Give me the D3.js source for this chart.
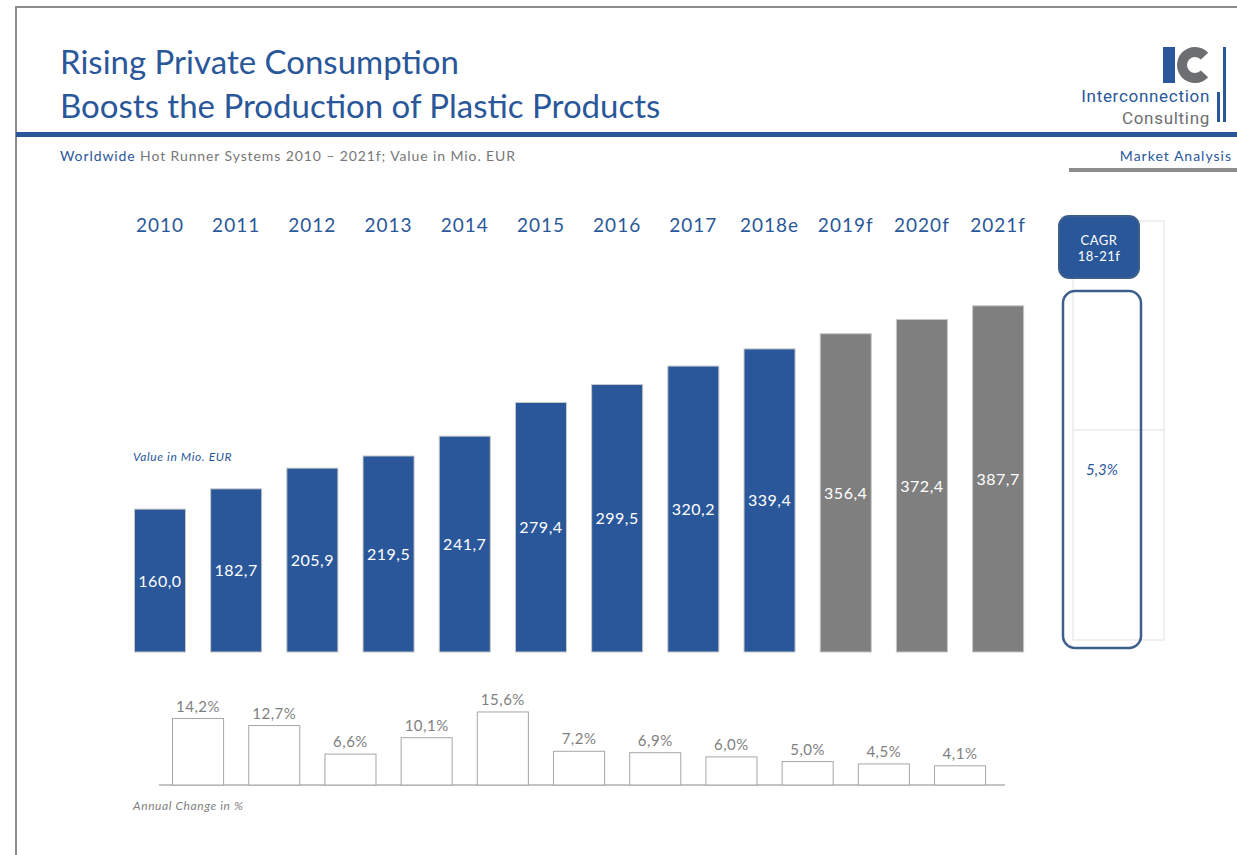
<!DOCTYPE html>
<html>
<head>
<meta charset="utf-8">
<script src="https://cdn.jsdelivr.net/npm/d3@7"></script>
<style>
  body { margin: 0; background: #fff; }
  svg { display: block; font-family: Lato, "Open Sans", sans-serif; }
</style>
</head>
<body>
<svg id="chart" width="1237" height="855"></svg>
<script>
// chart data
const years = ['2010', '2011', '2012', '2013', '2014', '2015', '2016', '2017', '2018e', '2019f', '2020f', '2021f'];
const values = [160.0, 182.7, 205.9, 219.5, 241.7, 279.4, 299.5, 320.2, 339.4, 356.4, 372.4, 387.7];
const forecast = [false, false, false, false, false, false, false, false, false, true, true, true];
const changes = [14.2, 12.7, 6.6, 10.1, 15.6, 7.2, 6.9, 6.0, 5.0, 4.5, 4.1];
const cagrLabel = ['CAGR', '18-21f'];
const cagrValue = 5.3;

const blue = '#2a579a';
const grey = '#7f7f7f';
const comma = v => d3.format('.1f')(v).replace('.', ',');

const svg = d3.select('#chart');

// frame
svg.append('path')
  .attr('d', 'M16,855V7H1237')
  .attr('fill', 'none')
  .attr('stroke', '#8c8c8c')
  .attr('stroke-width', 2);

// header
const title = svg.append('text')
  .attr('x', 60)
  .attr('fill', blue)
  .attr('font-size', 33);
title.append('tspan').attr('x', 60).attr('y', 74).text('Rising Private Consumption');
title.append('tspan').attr('x', 60).attr('y', 118).text('Boosts the Production of Plastic Products');

svg.append('rect').attr('x', 16).attr('y', 132).attr('width', 1221).attr('height', 5).attr('fill', blue);

const sub = svg.append('text')
  .attr('x', 60).attr('y', 161)
  .attr('font-size', 14)
  .attr('letter-spacing', 0.9)
  .attr('fill', '#777');
sub.append('tspan').attr('fill', blue).text('Worldwide');
sub.append('tspan').text(' Hot Runner Systems 2010 – 2021f; Value in Mio. EUR');

svg.append('text')
  .attr('x', 1232).attr('y', 161)
  .attr('text-anchor', 'end')
  .attr('font-size', 14)
  .attr('letter-spacing', 1)
  .attr('fill', blue)
  .text('Market Analysis');
svg.append('rect').attr('x', 1069).attr('y', 168).attr('width', 168).attr('height', 4).attr('fill', '#8c8c8c');

// logo
const logo = svg.append('g');
logo.append('rect').attr('x', 1163).attr('y', 47).attr('width', 12).attr('height', 36).attr('fill', blue);
logo.append('path')
  .attr('d', d3.arc()({innerRadius: 8, outerRadius: 18, startAngle: Math.PI / 2 + 0.75, endAngle: Math.PI * 2.5 - 0.75}))
  .attr('transform', 'translate(1195,65)')
  .attr('fill', '#6d6e71');
logo.append('rect').attr('x', 1223).attr('y', 47).attr('width', 3).attr('height', 75).attr('fill', blue);
logo.append('rect').attr('x', 1217).attr('y', 92).attr('width', 3).attr('height', 30).attr('fill', blue);
logo.append('text').attr('x', 1210).attr('y', 102).attr('text-anchor', 'end')
  .attr('font-size', 17).attr('letter-spacing', 0.7).attr('fill', blue)
  .attr('font-family', 'Roboto, sans-serif').text('Interconnection');
logo.append('text').attr('x', 1210).attr('y', 124).attr('text-anchor', 'end')
  .attr('font-size', 17).attr('letter-spacing', 0.7).attr('fill', '#6d6e71')
  .attr('font-family', 'Roboto, sans-serif').text('Consulting');

// main bar chart
const x = d3.scaleBand()
  .domain(years)
  .range([109.3, 1048.8])
  .padding(0.33);

const y = d3.scaleLinear()
  .domain([0, 400])
  .range([652, 294.8]);

svg.append('g')
  .selectAll('text')
  .data(years)
  .join('text')
  .attr('x', d => x(d) + x.bandwidth() / 2)
  .attr('y', 232)
  .attr('text-anchor', 'middle')
  .attr('font-size', 19)
  .attr('letter-spacing', 1)
  .attr('fill', blue)
  .text(d => d);

svg.append('g')
  .selectAll('rect')
  .data(values)
  .join('rect')
  .attr('x', (d, i) => x(years[i]))
  .attr('y', d => y(d))
  .attr('width', x.bandwidth())
  .attr('height', d => y(0) - y(d))
  .attr('fill', (d, i) => forecast[i] ? grey : blue)
  .attr('stroke', '#c8c8c8')
  .attr('stroke-width', 1);

svg.append('g')
  .selectAll('text')
  .data(values)
  .join('text')
  .attr('x', (d, i) => x(years[i]) + x.bandwidth() / 2)
  .attr('y', d => (y(d) + y(0)) / 2 + 6)
  .attr('text-anchor', 'middle')
  .attr('font-size', 16)
  .attr('letter-spacing', 0.5)
  .attr('fill', '#fff')
  .text(d => comma(d));

svg.append('text')
  .attr('x', 133).attr('y', 461)
  .attr('font-size', 12)
  .attr('letter-spacing', 0.6)
  .attr('font-style', 'italic')
  .attr('fill', blue)
  .text('Value in Mio. EUR');

// annual change chart
const x2 = d3.scaleBand()
  .domain(years.slice(1))
  .range([109.3 + x.step() / 2, 1048.8 - x.step() / 2])
  .padding(0.33);

const y2 = d3.scaleLinear()
  .domain([0, 16])
  .range([785, 710.1]);

svg.append('line')
  .attr('x1', 159).attr('x2', 1005)
  .attr('y1', y2(0)).attr('y2', y2(0))
  .attr('stroke', '#b0b0b0')
  .attr('stroke-width', 1.5);

svg.append('g')
  .selectAll('rect')
  .data(changes)
  .join('rect')
  .attr('x', (d, i) => x2(years[i + 1]))
  .attr('y', d => y2(d))
  .attr('width', x2.bandwidth())
  .attr('height', d => y2(0) - y2(d))
  .attr('fill', '#fff')
  .attr('stroke', '#a6a6a6')
  .attr('stroke-width', 1);

svg.append('g')
  .selectAll('text')
  .data(changes)
  .join('text')
  .attr('x', (d, i) => x2(years[i + 1]) + x2.bandwidth() / 2)
  .attr('y', d => y2(d) - 7)
  .attr('text-anchor', 'middle')
  .attr('font-size', 15)
  .attr('letter-spacing', 0.5)
  .attr('fill', '#7f7f7f')
  .text(d => comma(d) + '%');

svg.append('text')
  .attr('x', 133).attr('y', 810)
  .attr('font-size', 12)
  .attr('letter-spacing', 0.6)
  .attr('font-style', 'italic')
  .attr('fill', '#7f7f7f')
  .text('Annual Change in %');

// CAGR panel
svg.append('rect')
  .attr('x', 1073).attr('y', 221).attr('width', 91).attr('height', 419)
  .attr('fill', 'none').attr('stroke', '#ebebeb').attr('stroke-width', 1.5);
svg.append('line')
  .attr('x1', 1073).attr('x2', 1164).attr('y1', 430).attr('y2', 430)
  .attr('stroke', '#ebebeb').attr('stroke-width', 1.5);

svg.append('rect')
  .attr('x', 1059).attr('y', 216).attr('width', 80).attr('height', 62)
  .attr('rx', 10)
  .attr('fill', blue).attr('stroke', '#3c5f8c').attr('stroke-width', 2);
svg.append('g')
  .selectAll('text')
  .data(cagrLabel)
  .join('text')
  .attr('x', 1099)
  .attr('y', (d, i) => 245 + i * 16)
  .attr('text-anchor', 'middle')
  .attr('font-size', 13)
  .attr('letter-spacing', 0.5)
  .attr('fill', '#fff')
  .text(d => d);

svg.append('rect')
  .attr('x', 1063).attr('y', 291).attr('width', 78).attr('height', 357)
  .attr('rx', 12)
  .attr('fill', 'none').attr('stroke', '#3c5f8c').attr('stroke-width', 2.5);
svg.append('text')
  .attr('x', 1102).attr('y', 475)
  .attr('text-anchor', 'middle')
  .attr('font-size', 15)
  .attr('font-style', 'italic')
  .attr('fill', blue)
  .text(comma(cagrValue) + '%');
</script>
</body>
</html>
